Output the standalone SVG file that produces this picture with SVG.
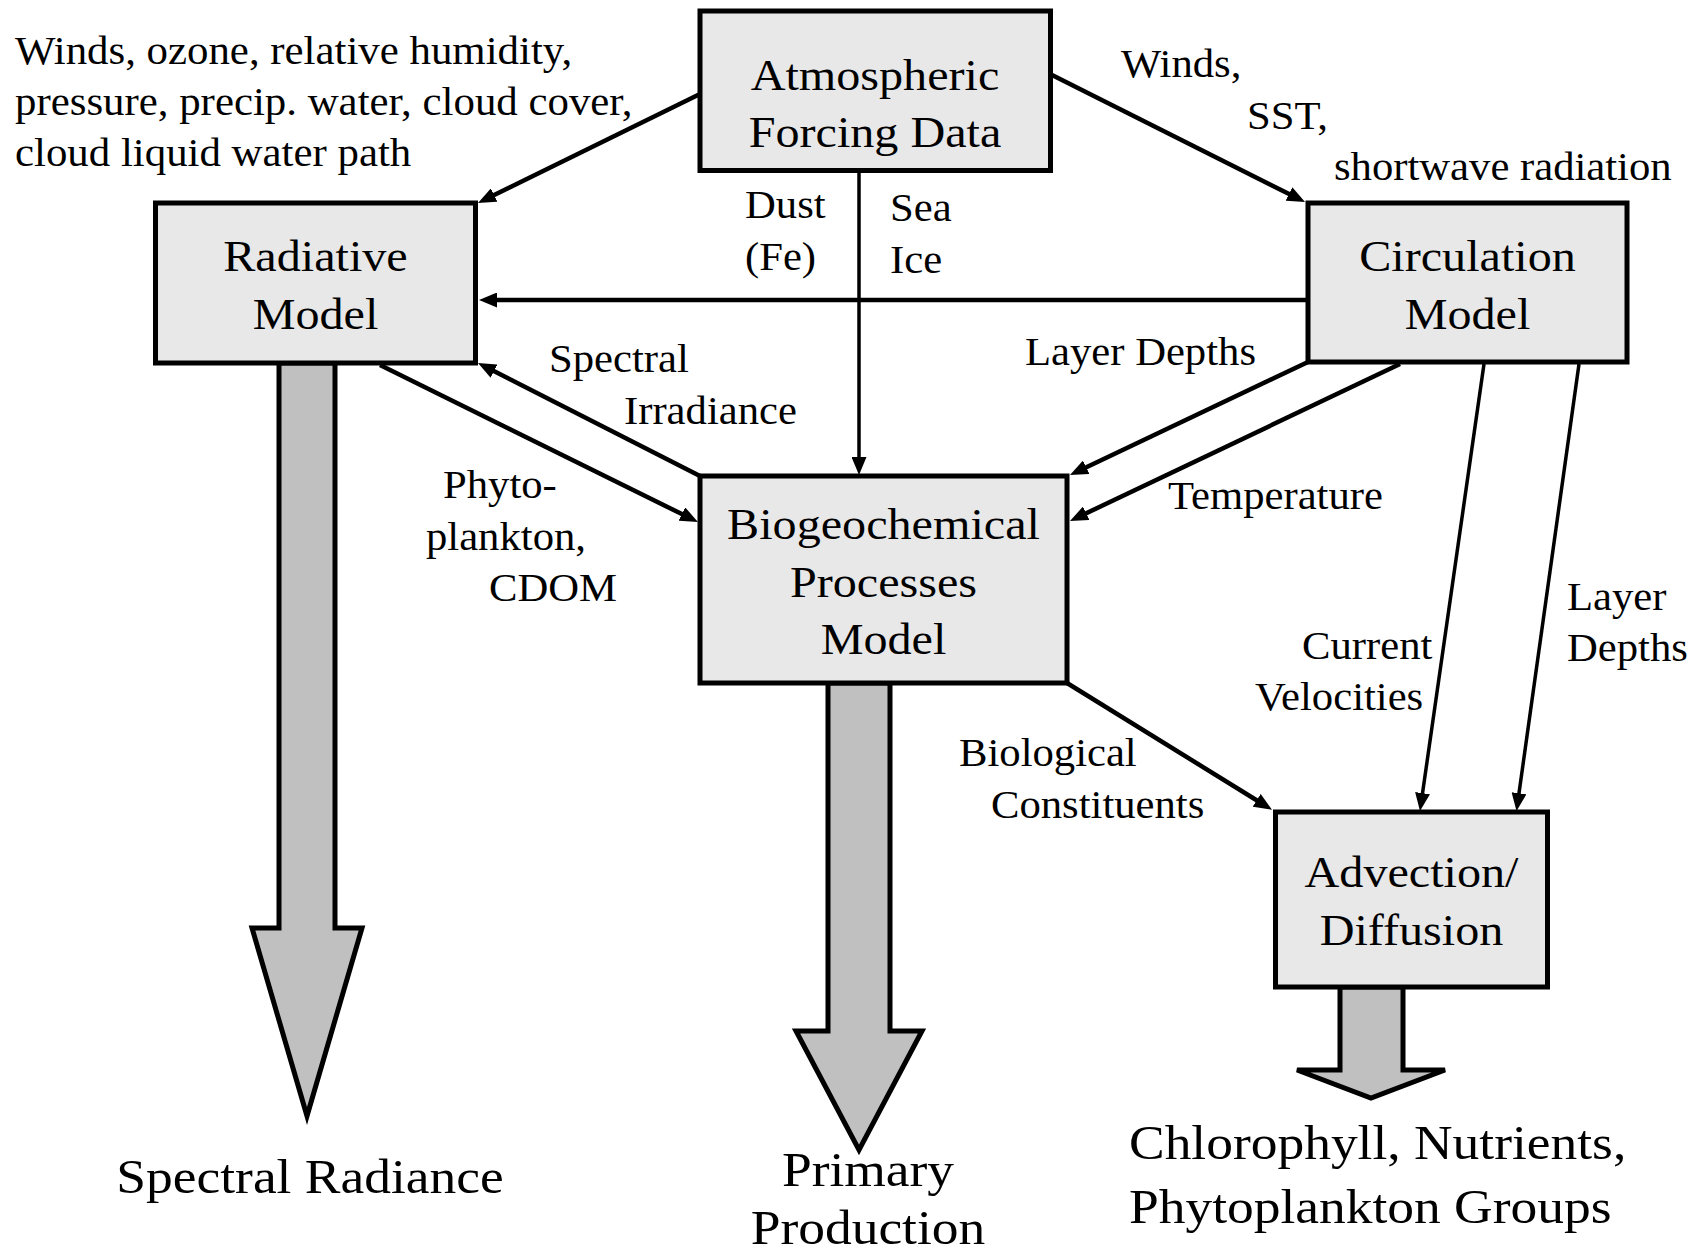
<svg xmlns="http://www.w3.org/2000/svg" width="1705" height="1257" viewBox="0 0 1705 1257">
<style>
  .box { fill: #e8e8e8; stroke: #000; stroke-width: 5; }
  .out { fill: #c0c0c0; stroke: #000; stroke-width: 5; stroke-linejoin: miter; }
  .ln { fill: none; stroke: #000; stroke-width: 4.5; marker-end: url(#ah); }
  .thin { fill: none; stroke: #000; stroke-width: 3.5; marker-end: url(#ah); }
  text { font-family: "Liberation Serif", "Times New Roman", serif; fill: #000; }
  .bl { font-size: 45px; text-anchor: middle; }
  .lb { font-size: 39.5px; }
  .big { font-size: 49.5px; }
</style>
<defs>
  <marker id="ah" markerUnits="userSpaceOnUse" markerWidth="18" markerHeight="15" refX="8" refY="7.5" orient="auto">
    <path d="M0,0 L18,7.5 L0,15 z" fill="#000"/>
  </marker>
</defs>
<rect x="0" y="0" width="1705" height="1257" fill="#fff"/>

<g id="outputs">
  <polygon class="out" points="279,363 279,928 252,928 307,1116 362,928 335,928 335,363"/>
  <polygon class="out" points="828,683 828,1031 796,1031 859,1150 922,1031 890,1031 890,683"/>
  <polygon class="out" points="1340,987 1340,1070 1297,1070 1371,1098 1445,1070 1403,1070 1403,987"/>
</g>

<g id="atmospheric">
  <rect class="box" x="700" y="11" width="350.5" height="159.5"/>
  <text class="bl" transform="translate(875 0) scale(1.07 1)"><tspan x="0" y="90">Atmospheric</tspan><tspan x="0" y="147">Forcing Data</tspan></text>
</g>
<g id="radiative">
  <rect class="box" x="155.5" y="203" width="320" height="160"/>
  <text class="bl" transform="translate(315.5 0) scale(1.07 1)"><tspan x="0" y="271">Radiative</tspan><tspan x="0" y="329">Model</tspan></text>
</g>
<g id="circulation">
  <rect class="box" x="1308" y="203" width="319" height="159"/>
  <text class="bl" transform="translate(1467.5 0) scale(1.07 1)"><tspan x="0" y="271">Circulation</tspan><tspan x="0" y="329">Model</tspan></text>
</g>
<g id="biogeochemical">
  <rect class="box" x="700" y="476" width="367" height="207"/>
  <text class="bl" transform="translate(883.5 0) scale(1.07 1)"><tspan x="0" y="539">Biogeochemical</tspan><tspan x="0" y="597">Processes</tspan><tspan x="0" y="654">Model</tspan></text>
</g>
<g id="advection">
  <rect class="box" x="1275.5" y="812" width="272" height="175"/>
  <text class="bl" transform="translate(1411.5 0) scale(1.07 1)"><tspan x="0" y="887">Advection/</tspan><tspan x="0" y="945">Diffusion</tspan></text>
</g>

<g id="connectors">
  <line class="ln" x1="700" y1="94" x2="487" y2="198.6"/>
  <line class="ln" x1="1052" y1="75" x2="1296.1" y2="197.5"/>
  <line class="thin" x1="859" y1="171" x2="859" y2="465"/>
  <line class="ln" x1="1308" y1="300" x2="489" y2="300"/>
  <line class="ln" x1="700" y1="476" x2="486.9" y2="367.5"/>
  <line class="ln" x1="380" y1="365" x2="689" y2="517.6"/>
  <line class="ln" x1="1308" y1="362" x2="1079" y2="470.7"/>
  <line class="ln" x1="1400" y1="364" x2="1079" y2="516.7"/>
  <line class="thin" x1="1484" y1="364" x2="1421.4" y2="801.1"/>
  <line class="thin" x1="1579" y1="364" x2="1517.9" y2="801.1"/>
  <line class="ln" x1="1067" y1="683" x2="1263.5" y2="804.5"/>
</g>

<g id="labels">
  <text class="lb" transform="translate(15 0) scale(1.085 1)"><tspan x="0" y="64">Winds, ozone, relative humidity,</tspan><tspan x="0" y="115">pressure, precip. water, cloud cover,</tspan><tspan x="0" y="166">cloud liquid water path</tspan></text>
  <text class="lb" transform="translate(1121 0) scale(1.08 1)"><tspan x="0" y="77">Winds,</tspan></text>
  <text class="lb" transform="translate(1247 0) scale(1.08 1)"><tspan x="0" y="129">SST,</tspan></text>
  <text class="lb" transform="translate(1334 0) scale(1.08 1)"><tspan x="0" y="180">shortwave radiation</tspan></text>
  <text class="lb" transform="translate(745 0) scale(1.08 1)"><tspan x="0" y="218">Dust</tspan><tspan x="0" y="270">(Fe)</tspan></text>
  <text class="lb" transform="translate(890 0) scale(1.08 1)"><tspan x="0" y="221">Sea</tspan><tspan x="0" y="273">Ice</tspan></text>
  <text class="lb" transform="translate(1025 0) scale(1.08 1)"><tspan x="0" y="365">Layer Depths</tspan></text>
  <text class="lb" transform="translate(549 0) scale(1.08 1)"><tspan x="0" y="372">Spectral</tspan></text>
  <text class="lb" transform="translate(624 0) scale(1.08 1)"><tspan x="0" y="424">Irradiance</tspan></text>
  <text class="lb" transform="translate(443 0) scale(1.08 1)"><tspan x="0" y="498">Phyto-</tspan></text>
  <text class="lb" transform="translate(426 0) scale(1.08 1)"><tspan x="0" y="550">plankton,</tspan></text>
  <text class="lb" transform="translate(489 0) scale(1.08 1)"><tspan x="0" y="601">CDOM</tspan></text>
  <text class="lb" transform="translate(1168 0) scale(1.08 1)"><tspan x="0" y="509">Temperature</tspan></text>
  <text class="lb" transform="translate(1302 0) scale(1.08 1)"><tspan x="0" y="659">Current</tspan></text>
  <text class="lb" transform="translate(1255 0) scale(1.08 1)"><tspan x="0" y="710">Velocities</tspan></text>
  <text class="lb" transform="translate(1567 0) scale(1.08 1)"><tspan x="0" y="610">Layer</tspan><tspan x="0" y="661">Depths</tspan></text>
  <text class="lb" transform="translate(959 0) scale(1.08 1)"><tspan x="0" y="766">Biological</tspan></text>
  <text class="lb" transform="translate(991 0) scale(1.08 1)"><tspan x="0" y="818">Constituents</tspan></text>
  <text class="big" transform="translate(310 0) scale(1.08 1)" text-anchor="middle"><tspan x="0" y="1193">Spectral Radiance</tspan></text>
  <text class="big" transform="translate(868 0) scale(1.08 1)" text-anchor="middle"><tspan x="0" y="1186">Primary</tspan><tspan x="0" y="1244">Production</tspan></text>
  <text class="big" transform="translate(1129 0) scale(1.08 1)"><tspan x="0" y="1159">Chlorophyll, Nutrients,</tspan><tspan x="0" y="1223">Phytoplankton Groups</tspan></text>
</g>
</svg>
